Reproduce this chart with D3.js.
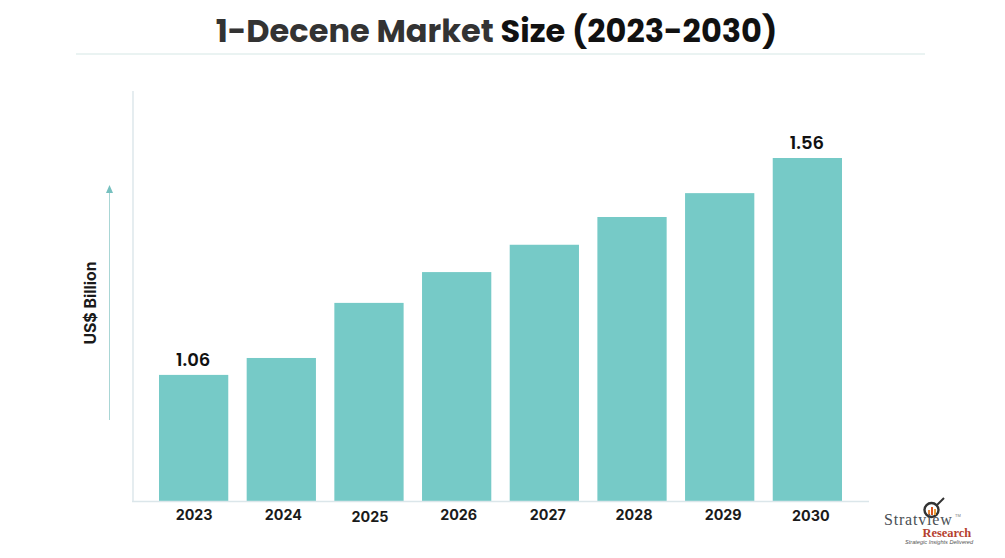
<!DOCTYPE html>
<html><head><meta charset="utf-8">
<script src="https://cdnjs.cloudflare.com/ajax/libs/d3/7.8.5/d3.min.js"></script>
<style>html,body{margin:0;padding:0;background:#fff}svg{display:block}</style>
</head><body><svg id="c" width="1005" height="558"></svg>
<script>
const categories=["2023","2024","2025","2026","2027","2028","2029","2030"];
const values=[1.06,1.099,1.226,1.297,1.36,1.424,1.479,1.56];
const shownLabels={"2023":"1.06","2030":"1.56"};
const tickNudgeY=[0,0,2,0,0,0,0,1];
const tickNudgeX=[0.5,2,1,2,3.5,2,3.5,3.5];
const svg=d3.select("#c");
const x=d3.scaleBand().domain(categories).range([159,842]).paddingInner(0.21).paddingOuter(0);
const y=d3.scaleLinear().domain([0.767,1.56]).range([502,158]);
const font="Inter, 'Noto Sans', sans-serif";

// title
const title=svg.append("text").attr("x",496.5).attr("y",42).attr("text-anchor","middle")
 .attr("font-family","Poppins, Inter, sans-serif").attr("font-weight",700).attr("font-size",32);
title.append("tspan").attr("fill","#333").text("1-Decene Market ");
title.append("tspan").attr("fill","#111").text("Size (2023-2030)");
svg.append("line").attr("x1",76).attr("x2",925).attr("y1",54).attr("y2",54).attr("stroke","#d5e8e6").attr("stroke-width",1.2);

// bars
svg.selectAll("rect.bar").data(categories).join("rect").attr("class","bar")
 .attr("x",d=>x(d)).attr("width",x.bandwidth())
 .attr("y",(d,i)=>y(values[i])).attr("height",(d,i)=>y.range()[0]-y(values[i])).attr("fill","#76cac7");

// axes
svg.append("line").attr("x1",133).attr("x2",133).attr("y1",91).attr("y2",501).attr("stroke","#dbe6ea").attr("stroke-width",1.4);
svg.append("line").attr("x1",132).attr("x2",869).attr("y1",501.5).attr("y2",501.5).attr("stroke","#dbe6ea").attr("stroke-width",1.4);

const ax=svg.append("g").attr("transform","translate(0,502)").call(d3.axisBottom(x).tickSize(0).tickPadding(0));
ax.select(".domain").remove();
ax.selectAll("text").attr("font-family",font).attr("font-weight",700).attr("font-size",14.3).attr("fill","#1a1a1a")
 .attr("dy",null).attr("x",(d,i)=>tickNudgeX[i]).attr("y",(d,i)=>18+tickNudgeY[i]);

// value labels
svg.selectAll("text.val").data(categories.filter(c=>shownLabels[c])).join("text").attr("class","val")
 .attr("x",d=>x(d)+x.bandwidth()/2-0.5).attr("y",d=>y(values[categories.indexOf(d)])-9)
 .attr("text-anchor","middle").attr("font-family","Poppins, Inter, sans-serif").attr("font-weight",600).attr("font-size",18).attr("fill","#111")
 .text(d=>shownLabels[d]);

// y label and arrow
svg.append("text").attr("transform","translate(96,303) rotate(-90)").attr("text-anchor","middle")
 .attr("font-family",font).attr("font-weight",700).attr("font-size",15.8).attr("fill","#1a1a1a").text("US$ Billion");
svg.append("line").attr("x1",109.5).attr("x2",109.5).attr("y1",192).attr("y2",420).attr("stroke","#a9d6d5").attr("stroke-width",1);
svg.append("path").attr("d","M109.5 185L113 193L106 193Z").attr("fill","#76c0bf");

// logo
const lg=svg.append("g");
lg.append("circle").attr("cx",931.5).attr("cy",510).attr("r",7).attr("fill","#fff").attr("stroke","#333").attr("stroke-width",2.4);
lg.append("line").attr("x1",937).attr("y1",505).attr("x2",944).attr("y2",498).attr("stroke","#333").attr("stroke-width",2);
lg.append("rect").attr("x",928).attr("y",510).attr("width",2).attr("height",5).attr("fill","#e8883a");
lg.append("rect").attr("x",931).attr("y",507).attr("width",2).attr("height",8).attr("fill","#d9541e");
lg.append("rect").attr("x",934).attr("y",509).attr("width",2).attr("height",6).attr("fill","#e8a03a");
lg.append("text").attr("x",884).attr("y",525).attr("font-family","'Liberation Serif',serif").attr("font-size",16).attr("letter-spacing",0.8).attr("fill","#4a4f55").text("Stratview");
lg.append("text").attr("x",955).attr("y",517).attr("font-family","'Liberation Sans',sans-serif").attr("font-size",4).attr("fill","#777").text("TM");
lg.append("text").attr("x",922.5).attr("y",537).attr("font-family","'Liberation Serif',serif").attr("font-weight",700).attr("font-size",12.4).attr("fill","#b5402e").text("Research");
lg.append("text").attr("x",905).attr("y",544).attr("font-family","'Liberation Sans',sans-serif").attr("font-style","italic").attr("font-size",5.6).attr("fill","#555").text("Strategic Insights Delivered");
</script></body></html>
